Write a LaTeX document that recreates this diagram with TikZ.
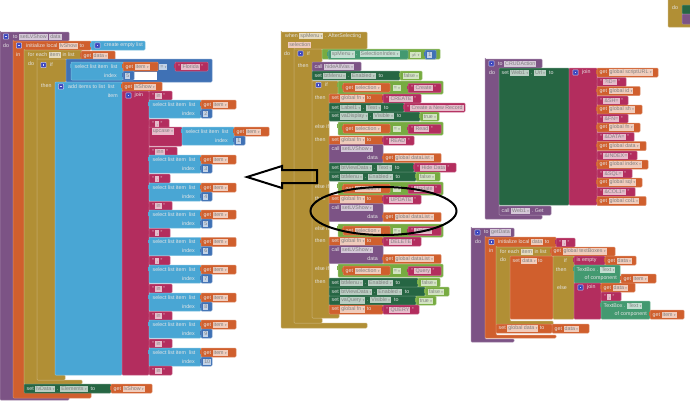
\documentclass[tikz,border=0pt]{standalone}
\usepackage{fontspec}
\setmainfont{Liberation Sans}
\newfontfamily\symfont{DejaVu Sans}
\usepackage{tikz}
\usepackage{xcolor}
\definecolor{aipurple}{RGB}{124,83,133}
\definecolor{aiorange}{RGB}{208,95,45}
\definecolor{aicontrol}{RGB}{177,143,53}
\definecolor{ailist}{RGB}{73,166,212}
\definecolor{aitext}{RGB}{179,45,94}
\definecolor{aiset}{RGB}{38,102,67}
\definecolor{aiget}{RGB}{67,153,112}
\definecolor{ailogic}{RGB}{119,171,65}
\definecolor{aimath}{RGB}{63,113,181}
\definecolor{aiicon}{RGB}{60,70,190}
\tikzstyle{blockline} = [line width=0.5pt, line join=round, rounded corners=0.8pt]
\tikzstyle{blocktext} = [anchor=west, inner sep=0pt, text=white!90!black, font=\fontsize{5.3}{6}\selectfont]
\tikzstyle{handmark} = [line width=2pt, draw=black, line join=miter]
\setlength{\fboxsep}{0.5pt}
\newcounter{blkno}
\def\blkcol{aipurple}
\newcommand{\pill}[1]{\colorbox{\blkcol!32!white}{\rule[-1pt]{0pt}{5pt}\hspace{0.6pt}\textcolor{black!50}{#1}\hspace{0.6pt}}}
\newcommand{\ddn}{{\symfont\fontsize{3}{3}\selectfont ▾}}
\newcommand{\pilld}[1]{\pill{#1 \ddn}}
\newcommand{\lab}[3]{\stepcounter{blkno}\node[blocktext] (lab\theblkno) at (#1,#2) {#3};}
\newcommand{\labr}[3]{\stepcounter{blkno}\node[blocktext, anchor=east] (lab\theblkno) at (#1,#2) {#3};}
% plain block with its first row of text
\newcommand{\blk}[6]{\def\blkcol{#1}\filldraw[fill=#1, draw=#1!72!white, blockline] (#2,#3) rectangle (#4,#5);
  \def\blkrow{#6}\ifx\blkrow\empty\else\lab{#2+2.5}{#3+4.5}{#6}\fi}
% C shaped block: top bar, column, bottom bar
\newcommand{\cblk}[9]{\def\blkcol{#1}\filldraw[fill=#1, draw=#1!72!white, blockline] (#2,#3) -| (#4,#5) -| (#6,#7) -| (#8,#9) -| (#2,#3) -- cycle;}
\newcommand{\gear}[2]{\filldraw[fill=aiicon, draw=white!70!aiicon, line width=0.5pt, rounded corners=0.5pt] (#1-2.6,#2-2.6) rectangle (#1+2.6,#2+2.6);
  \fill[white!80!aiicon] (#1-0.9,#2-0.9) rectangle (#1+0.9,#2+0.9);}
% value block with a small tab at the left
\newcommand{\tabb}[3]{\fill[#1] (#2-1.5,#3+2) rectangle (#2+0.5,#3+5.5);}
\newcommand{\val}[5]{\tabb{#1}{#2}{#3}\blk{#1}{#2}{#3}{#4}{#3+9}{#5}}
\newcommand{\getb}[4]{\val{aiorange}{#1}{#2}{#3}{get \pilld{#4}}}
\newcommand{\txtb}[4]{\val{aitext}{#1}{#2}{#3}{\hspace{0.5pt}" \pill{#4} "}}
\newcommand{\numb}[3]{\tabb{aimath}{#1}{#2}\blk{aimath}{#1}{#2}{#1+11}{#2+9}{}\lab{#1+2}{#2+4.5}{\pill{#3}}}
\newcommand{\sel}[3]{\tabb{ailist}{#1}{#2}\blk{ailist}{#1}{#2}{#1+52}{#2+18}{}
  \lab{#1+3.5}{#2+4.5}{select list item\hspace{3pt}list}\labr{#1+46}{#2+13.5}{index}
  \getb{#1+52}{#2}{#1+87}{item}\numb{#1+52}{#2+9}{#3}}
% else if row of the menu handler
\newcommand{\cond}[2]{\tabb{ailogic}{338}{#1}\blk{ailogic}{338}{#1}{443}{#1+13}{}
  \getb{343}{#1+2}{390}{selection}\def\blkcol{ailogic}\lab{392.5}{#1+6.5}{\pilld{=}}\txtb{408}{#1+2.5}{441}{#2}}
\newcommand{\setfn}[3]{\blk{aiorange}{329}{#1}{383}{#1+9}{set \pilld{global fn} to}\txtb{383}{#1}{#2}{#3}}
\newcommand{\callshow}[1]{\blk{aipurple}{329}{#1}{383}{#1+18}{call \pilld{setLVShow}}\labr{378}{#1+13.5}{data}\getb{383}{#1+9}{441}{global dataList}}
\begin{document}
\begin{tikzpicture}[x=1pt, y=-1pt]
    \useasboundingbox (0,0) rectangle (690,410);

    % setLVShow procedure
    \cblk{aipurple}{0}{32}{69}{41}{13}{397}{69}{400}
    \gear{6}{36.5}
    \lab{13}{36.5}{to \pill{setLVShow} \pill{data}}
    \lab{3}{45.5}{do}
    \cblk{aiorange}{13}{41}{91}{50}{24}{392}{91}{398}
    \gear{19}{45.5}
    \lab{26}{45.5}{initialize local \pill{lvShow} to}
    \lab{16}{55}{in}
    \val{ailist}{91}{41}{145}{}
    \gear{97.5}{45.5}
    \lab{104}{45.5}{create empty list}
    \cblk{aicontrol}{24}{50}{82}{59}{37}{380}{82}{384}
    \lab{28}{54.5}{for each \pill{item} in list}
    \lab{28}{64}{do}
    \getb{81}{51}{115}{data}
    \cblk{aicontrol}{37}{59}{66}{82}{55}{375}{65}{380}
    \gear{43.5}{65}
    \lab{50}{65}{if}
    \lab{41}{86}{then}

    % test of the if
    \blk{aimath}{66}{59}{212}{82}{}
    \fill[white] (133,71.5) rectangle (157,80);
    \sel{71}{62}{5}
    \def\blkcol{aimath}
    \lab{159}{66.5}{\pilld{=}}
    \txtb{175}{62}{208}{Florida}

    % add items to list
    \blk{ailist}{55}{82}{122}{375}{}
    \gear{61}{86.5}
    \lab{68}{86.5}{add items to list\hspace{3pt}list}
    \labr{118}{95.5}{item}
    \getb{122}{82}{162}{lvShow}
    \blk{aitext}{122}{91}{149}{375}{}
    \gear{128.5}{95.5}
    \lab{134.5}{95.5}{join}

    % join items
    \txtb{149}{91}{172}{in}
    \sel{149}{100}{2}
    \txtb{149}{119}{169}{,}
    \blk{aitext}{149}{127}{182}{146}{\pilld{upcase}}
    \sel{182}{127}{1}
    \txtb{149}{147}{177}{inn}
    \sel{149}{155}{3}
    \txtb{149}{174}{170}{,}
    \sel{149}{183}{4}
    \txtb{149}{201.5}{172}{in}
    \sel{149}{210}{5}
    \txtb{149}{228.5}{170}{,}
    \sel{149}{237.5}{6}
    \txtb{149}{256}{170}{,}
    \sel{149}{265}{7}
    \txtb{149}{284}{172}{in}
    \sel{149}{293}{8}
    \txtb{149}{311.5}{172}{in}
    \sel{149}{320}{9}
    \txtb{149}{339}{172}{in}
    \sel{149}{348}{10}
    \txtb{149}{366}{172}{in}

    % set lvData
    \blk{aiset}{24}{384}{111}{393}{set \pilld{lvData} . \pilld{Elements}\hspace{3pt}to}
    \getb{111}{384}{152}{lvShow}

    % spMenu handler
    \cblk{aicontrol}{281}{32}{367}{49}{294}{323}{367}{328}
    \lab{285}{36}{when \pilld{spMenu} . AfterSelecting}
    \def\blkcol{aiorange}
    \lab{288}{44.5}{\pill{selection}}
    \lab{284}{53.5}{do}
    \cblk{aicontrol}{294}{49}{322}{62}{312}{318}{322}{323}
    \gear{300.5}{53.5}
    \lab{307}{53.5}{if}
    \lab{298}{66}{then}
    \blk{ailogic}{322}{49}{440}{59}{}
    \val{aiget}{328}{50}{408}{\pilld{spMenu} . \pilld{SelectionIndex}}
    \def\blkcol{ailogic}
    \lab{410}{54.5}{\pilld{$\neq$}}
    \numb{425}{50}{1}
    \blk{aipurple}{312}{62}{361}{71}{call \pilld{hideAllVas}}
    \blk{aiset}{312}{71}{400}{80}{set \pilld{btMenu} . \pilld{Enabled}\hspace{3pt}to}
    \val{ailogic}{400}{71}{422}{\pilld{false}}
    \cblk{aicontrol}{312}{81}{338}{94}{329}{313}{339}{318}
    \gear{318.5}{85}
    \lab{325}{85}{if}
    \lab{315}{98}{then}
    \lab{315}{127}{else if}
    \lab{315}{140}{then}
    \lab{315}{187}{else if}
    \lab{315}{199}{then}
    \lab{315}{229}{else if}
    \lab{315}{241}{then}
    \lab{315}{269}{else if}
    \lab{315}{282}{then}

    % create
    \cond{81}{Create}
    \setfn{94}{421}{CREATE}
    \blk{aiset}{329}{103}{404}{112}{set \pilld{Label1} . \pilld{Text}\hspace{3pt}to}
    \txtb{404}{103}{465}{Create a New Record}
    \blk{aiset}{329}{112}{420}{121}{set \pilld{vaDisplay} . \pilld{Visible}\hspace{3pt}to}
    \val{ailogic}{420}{112}{439}{\pilld{true}}

    % read
    \cond{122}{Read}
    \setfn{136}{414}{READ}
    \callshow{144.5}
    \blk{aiset}{329}{163}{414}{172}{set \pilld{btViewData} . \pilld{Text}\hspace{3pt}to}
    \txtb{414}{163}{456}{Hide Data}
    \blk{aiset}{329}{172}{416}{181}{set \pilld{btMenu} . \pilld{Enabled}\hspace{3pt}to}
    \val{ailogic}{416}{172}{440}{\pilld{false}}

    % update
    \cond{182}{Update}
    \setfn{195}{421}{UPDATE}
    \callshow{203.5}

    % delete
    \cond{224}{Delete}
    \setfn{237}{421}{DELETE}
    \callshow{245.5}

    % query
    \cond{264}{Query}
    \blk{aiset}{329}{278}{418}{287}{set \pilld{btMenu} . \pilld{Enabled}\hspace{3pt}to}
    \val{ailogic}{418}{278}{440}{\pilld{false}}
    \blk{aiset}{329}{287}{425}{296}{set \pilld{btViewData} . \pilld{Enabled}\hspace{3pt}to}
    \val{ailogic}{425}{287}{449}{\pilld{false}}
    \blk{aiset}{329}{296}{416}{305}{set \pilld{vaQuery} . \pilld{Visible}\hspace{3pt}to}
    \val{ailogic}{416}{296}{436}{\pilld{true}}
    \setfn{305}{419}{QUERY}

    % CRUDAction procedure
    \cblk{aipurple}{485}{59}{542}{68}{499}{215}{542}{219}
    \gear{491.5}{63.5}
    \lab{498}{63.5}{to \pill{CRUDAction}}
    \lab{489}{72.5}{do}
    \blk{aiset}{499}{68}{569}{205}{set \pilld{Web1} . \pilld{Url}\hspace{3pt}to}
    \blk{aitext}{569}{68}{597}{205}{}
    \gear{575.5}{72.5}
    \lab{582}{72.5}{join}
    \getb{597}{68}{658}{global scriptURL}
    \txtb{597}{77.5}{626}{?ID=}
    \getb{597}{86.5}{640}{global id}
    \txtb{597}{96}{628}{\&SH=}
    \getb{597}{105}{642}{global sh}
    \txtb{597}{114}{628}{\&FN=}
    \getb{597}{123}{640}{global fn}
    \txtb{597}{132.5}{634}{\&DATA=}
    \getb{597}{141.5}{646}{global data}
    \txtb{597}{151}{637}{\&INDEX=}
    \getb{597}{160}{648}{global index}
    \txtb{597}{169}{632}{\&SQL=}
    \getb{597}{178}{642}{global sql}
    \txtb{597}{187.5}{635}{\&COL1=}
    \getb{597}{196.5}{646}{global col1}
    \blk{aipurple}{499}{206}{551}{215}{call \pilld{Web1} . Get}

    % getData procedure
    \cblk{aipurple}{471}{228}{514}{237}{485}{339}{514}{342}
    \gear{477.5}{232.5}
    \lab{484}{232.5}{to \pill{getData}}
    \lab{475}{241.5}{do}
    \cblk{aiorange}{485}{237}{556}{247}{496}{335}{556}{338}
    \gear{491.5}{242}
    \lab{498}{242}{initialize local \pill{data} to}
    \lab{489}{251}{in}
    \txtb{556}{238}{575}{,}
    \cblk{aicontrol}{496}{247}{553}{256}{510}{321}{553}{325}
    \lab{500}{251.5}{for each \pill{item} in list}
    \lab{500}{260}{do}
    \getb{551}{247}{615}{global textBoxes}
    \blk{aiorange}{510}{256}{553}{319}{set \pilld{data} to}
    \blk{aicontrol}{553}{256}{574}{319}{}
    \labr{567}{260.5}{if}
    \lab{556}{269.5}{then}
    \lab{557}{287.5}{else}
    \val{aitext}{574}{256}{605}{is empty}
    \getb{605}{256}{636}{data}
    \tabb{aiget}{574}{265}
    \blk{aiget}{574}{265}{620}{283}{TextBox . \pilld{Text}}
    \labr{617}{278.5}{of component}
    \getb{621}{274}{656}{item}
    \blk{aitext}{574}{283}{601}{319}{}
    \gear{580.5}{287.5}
    \lab{587}{287.5}{join}
    \getb{601}{283}{635}{data}
    \txtb{601}{292}{621}{,}
    \tabb{aiget}{601}{301}
    \blk{aiget}{601}{301}{650}{319}{TextBox . \pilld{Text}}
    \labr{647}{314.5}{of component}
    \getb{650}{310}{684}{item}
    \blk{aiorange}{496}{324}{552}{333}{set \pilld{global data} to}
    \getb{552}{324}{589}{data}

    % cut off block in the top corner
    \blk{aicontrol}{668}{-2}{692}{27}{}
    \lab{672}{8}{do}
    \blk{aiset}{682}{5}{692}{14}{}
    \blk{aipurple}{682}{14}{692}{24}{}

    % hand drawn marks
    \draw[handmark] (247,177) -- (282,166) -- (282,170) -- (317,170) -- (317,183) -- (282,183) -- (282,188) -- cycle;
    \draw[handmark] (383.5,211) ellipse [x radius=73, y radius=24];
\end{tikzpicture}
\end{document}
